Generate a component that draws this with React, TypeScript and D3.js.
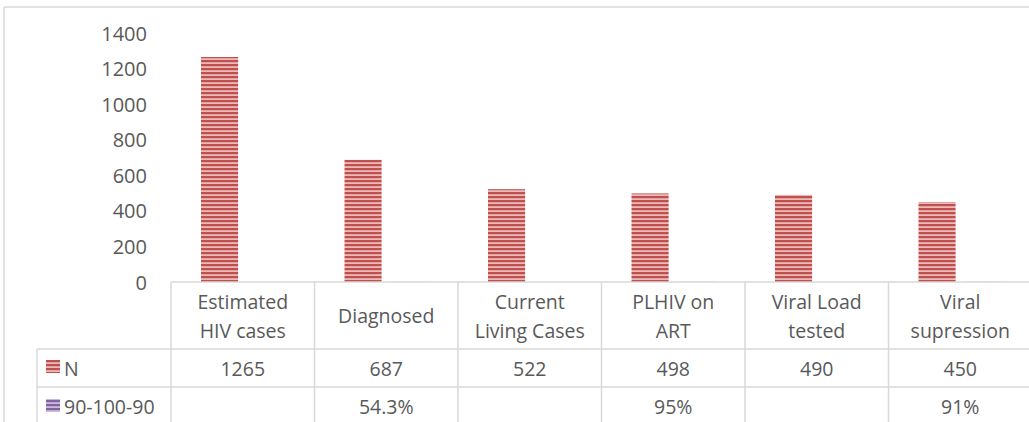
import React from "react";
import * as d3 from "d3";

const categories: string[][] = [
  ["Estimated", "HIV cases"],
  ["Diagnosed"],
  ["Current", "Living Cases"],
  ["PLHIV on", "ART"],
  ["Viral Load", "tested"],
  ["Viral", "supression"],
];
const nValues: number[] = [1265, 687, 522, 498, 490, 450];
const pctValues: (number | null)[] = [null, 0.543, null, 0.95, null, 0.91];
const seriesNames: string[] = ["N", "90-100-90"];
const yTicks: number[] = [0, 200, 400, 600, 800, 1000, 1200, 1400];

const W = 1029;
const H = 422;
const FONT = "'Open Sans', 'Liberation Sans', sans-serif";
const TEXT = "#595959";
const GRID = "#d9d9d9";
const FS = 19.5;

export default function App() {
  const keys = categories.map((c) => c.join(" "));
  const x = d3.scaleBand<string>().domain(keys).range([171, 1032]).paddingInner(0).paddingOuter(0);
  const inner = d3.scaleBand<string>().domain(seriesNames).range([30, 113.5]).paddingInner(0.2);
  const y = d3.scaleLinear().domain([0, 1400]).range([282, 33]);
  const pctFmt = d3.format(".3~%");

  const headerTop = y(0);
  const row1 = 349;
  const row2 = 387;
  const legendX = 37;

  return (
    <svg width={W} height={H} style={{ position: "absolute", left: 0, top: 0, background: "#fff" }} fontFamily={FONT}>
      <defs>
        <pattern id="redStripe" patternUnits="userSpaceOnUse" width="8" height="4">
          <rect width="8" height="4" fill="#eab9b8" />
          <rect width="8" height="2.2" fill="#c0504d" />
        </pattern>
        <pattern id="purpleStripe" patternUnits="userSpaceOnUse" width="8" height="4">
          <rect width="8" height="4" fill="#cbbbdb" />
          <rect width="8" height="2.2" fill="#8064a2" />
        </pattern>
      </defs>
      <rect x={0} y={0} width={W} height={H} fill="#fff" />
      {/* chart border */}
      <line x1={4} y1={7} x2={W} y2={7} stroke={GRID} strokeWidth={1.5} />
      <line x1={4} y1={7} x2={4} y2={H} stroke={GRID} strokeWidth={1.5} />

      {/* y axis labels */}
      {yTicks.map((t) => (
        <text key={t} x={147} y={y(t)} textAnchor="end" dominantBaseline="central" fontSize={FS + 0.5} fill={TEXT}>
          {t}
        </text>
      ))}

      {/* bars */}
      {keys.map((k, i) => (
        <g key={k}>
          <rect
            x={(x(k) as number) + (inner("N") as number)}
            y={y(nValues[i])}
            width={inner.bandwidth()}
            height={y(0) - y(nValues[i])}
            fill="url(#redStripe)"
          />
          {pctValues[i] !== null && (
            <rect
              x={(x(k) as number) + (inner("90-100-90") as number)}
              y={y(pctValues[i] as number)}
              width={inner.bandwidth()}
              height={y(0) - y(pctValues[i] as number)}
              fill="url(#purpleStripe)"
            />
          )}
        </g>
      ))}

      {/* data table lines */}
      <line x1={171} y1={headerTop} x2={W} y2={headerTop} stroke={GRID} strokeWidth={1.5} />
      <line x1={legendX} y1={row1} x2={W} y2={row1} stroke={GRID} strokeWidth={1.5} />
      <line x1={legendX} y1={row2} x2={W} y2={row2} stroke={GRID} strokeWidth={1.5} />
      <line x1={legendX} y1={row1} x2={legendX} y2={H} stroke={GRID} strokeWidth={1.5} />
      {keys.map((k) => (
        <line key={k} x1={x(k) as number} y1={headerTop} x2={x(k) as number} y2={H} stroke={GRID} strokeWidth={1.5} />
      ))}

      {/* header labels */}
      {categories.map((lines, i) => {
        const cx = (x(keys[i]) as number) + x.bandwidth() / 2;
        const mid = (headerTop + row1) / 2;
        const lh = 29;
        return (
          <text key={keys[i]} textAnchor="middle" fontSize={FS} fill={TEXT}>
            {lines.map((ln, j) => (
              <tspan key={j} x={cx} y={mid + (j - (lines.length - 1) / 2) * lh} dominantBaseline="central">
                {ln}
              </tspan>
            ))}
          </text>
        );
      })}

      {/* N row */}
      {nValues.map((v, i) => (
        <text
          key={"n" + i}
          x={(x(keys[i]) as number) + x.bandwidth() / 2}
          y={(row1 + row2) / 2}
          textAnchor="middle"
          dominantBaseline="central"
          fontSize={FS}
          fill={TEXT}
        >
          {v}
        </text>
      ))}
      {/* pct row */}
      {pctValues.map((v, i) =>
        v === null ? null : (
          <text
            key={"p" + i}
            x={(x(keys[i]) as number) + x.bandwidth() / 2}
            y={row2 + 19}
            textAnchor="middle"
            dominantBaseline="central"
            fontSize={FS}
            fill={TEXT}
          >
            {pctFmt(v)}
          </text>
        )
      )}

      {/* legend keys */}
      <rect x={46} y={360} width={14} height={13} fill="url(#redStripe)" />
      <text x={64} y={(row1 + row2) / 2} dominantBaseline="central" fontSize={FS} fill={TEXT}>
        {seriesNames[0]}
      </text>
      <rect x={46} y={399} width={14} height={13} fill="url(#purpleStripe)" />
      <text x={64} y={row2 + 19} dominantBaseline="central" fontSize={FS} fill={TEXT}>
        {seriesNames[1]}
      </text>
    </svg>
  );
}
